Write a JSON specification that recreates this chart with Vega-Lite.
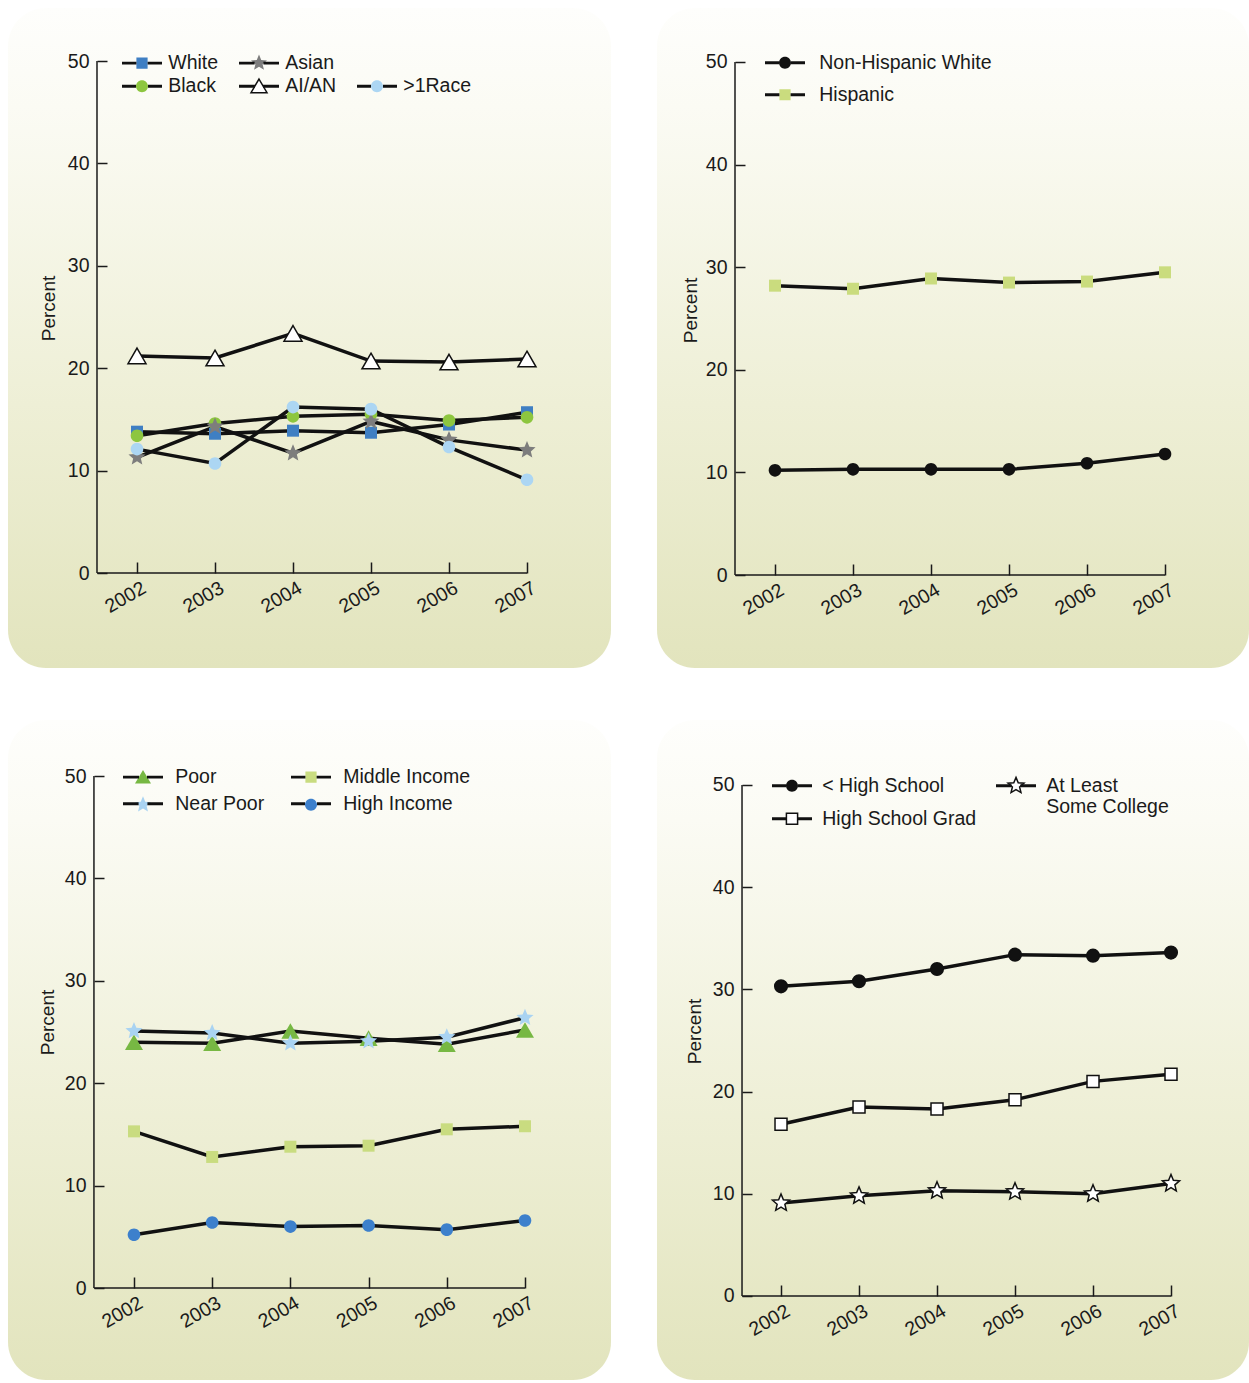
{
"$schema": "https://vega.github.io/schema/vega-lite/v6.json",
"padding": {"left": 8, "top": 8, "right": 0, "bottom": 0},
"background": "white",
"config": {"view": {"stroke": null}, "font": "Liberation Sans"},
"spacing": 52,
"vconcat": [
{"spacing": 46, "hconcat": [
{
"width": 603, "height": 660,
"view": {"cornerRadius": 38, "stroke": null, "fill": {"gradient": "linear", "x1": 0, "y1": 0, "x2": 0, "y2": 1, "stops": [{"offset": 0, "color": "#fefefc"}, {"offset": 0.15, "color": "#fbfbf4"}, {"offset": 0.6, "color": "#eeefd6"}, {"offset": 1, "color": "#e2e4bd"}]}},
"data": {"values": [
{"year": 2002, "group": "White", "value": 13.8}, {"year": 2003, "group": "White", "value": 13.6}, {"year": 2004, "group": "White", "value": 13.9}, {"year": 2005, "group": "White", "value": 13.7}, {"year": 2006, "group": "White", "value": 14.5}, {"year": 2007, "group": "White", "value": 15.7},
{"year": 2002, "group": "Black", "value": 13.4}, {"year": 2003, "group": "Black", "value": 14.6}, {"year": 2004, "group": "Black", "value": 15.3}, {"year": 2005, "group": "Black", "value": 15.5}, {"year": 2006, "group": "Black", "value": 14.9}, {"year": 2007, "group": "Black", "value": 15.2},
{"year": 2002, "group": "Asian", "value": 11.3}, {"year": 2003, "group": "Asian", "value": 14.3}, {"year": 2004, "group": "Asian", "value": 11.7}, {"year": 2005, "group": "Asian", "value": 14.8}, {"year": 2006, "group": "Asian", "value": 13.0}, {"year": 2007, "group": "Asian", "value": 12.0},
{"year": 2002, "group": "AI/AN", "value": 21.2}, {"year": 2003, "group": "AI/AN", "value": 21.0}, {"year": 2004, "group": "AI/AN", "value": 23.4}, {"year": 2005, "group": "AI/AN", "value": 20.7}, {"year": 2006, "group": "AI/AN", "value": 20.6}, {"year": 2007, "group": "AI/AN", "value": 20.9},
{"year": 2002, "group": ">1Race", "value": 12.1}, {"year": 2003, "group": ">1Race", "value": 10.7}, {"year": 2004, "group": ">1Race", "value": 16.2}, {"year": 2005, "group": ">1Race", "value": 16.0}, {"year": 2006, "group": ">1Race", "value": 12.3}, {"year": 2007, "group": ">1Race", "value": 9.1}
]},
"encoding": {
 "x": {"field": "year", "type": "quantitative", "scale": {"domain": [2000.346, 2008.077], "nice": false, "zero": false},
  "axis": {"values": [2002, 2003, 2004, 2005, 2006, 2007], "format": "d", "domain": false, "grid": false, "ticks": true, "tickSize": -11, "tickWidth": 1.5, "tickColor": "#1a1a1a", "labelAngle": -30, "labelAlign": "center", "labelBaseline": "middle", "labelPadding": 35, "labelOffset": -12, "labelFont": "Liberation Sans", "labelFontSize": 19.5, "labelColor": "#1a1a1a", "labelOverlap": false, "labelFlush": false, "offset": -95, "title": null, "zindex": 1}},
 "y": {"field": "value", "type": "quantitative", "scale": {"domain": [-9.277, 55.176], "nice": false, "zero": false},
  "axis": {"values": [0, 10, 20, 30, 40, 50], "domain": false, "grid": false, "ticks": true, "tickSize": -10, "tickWidth": 1.5, "tickColor": "#1a1a1a", "labelPadding": 18, "labelFont": "Liberation Sans", "labelFontSize": 19.5, "labelColor": "#1a1a1a", "labelOverlap": false, "labelFlush": false, "offset": -89, "title": "Percent", "titleFont": "Liberation Sans", "titleFontSize": 19, "titleFontWeight": "normal", "titleColor": "#1a1a1a", "titleX": -49, "titleY": 300, "titleBaseline": "middle", "titleAngle": 270, "zindex": 1}}
},
"layer": [
{"data": {"values": [{"x": 2001.487, "y": 0, "y2": 50}]}, "mark": {"type": "rule", "stroke": "#1a1a1a", "strokeWidth": 1.5},
 "encoding": {"x": {"field": "x", "type": "quantitative"}, "y": {"field": "y", "type": "quantitative"}, "y2": {"field": "y2"}}},
{"data": {"values": [{"x": 2001.487, "x2": 2007, "y": 0}]}, "mark": {"type": "rule", "stroke": "#1a1a1a", "strokeWidth": 1.5},
 "encoding": {"x": {"field": "x", "type": "quantitative"}, "x2": {"field": "x2"}, "y": {"field": "y", "type": "quantitative"}}},
{"mark": {"type": "line", "color": "#111111", "strokeWidth": 3.5},
 "encoding": {"detail": {"field": "group", "type": "nominal"}}},
{"mark": {"type": "point", "filled": true, "size": 144, "strokeWidth": 1.5, "opacity": 1},
 "encoding": {
  "shape": {"field": "group", "type": "nominal", "scale": {"domain": ["White", "Black", "Asian", "AI/AN", ">1Race"], "range": ["M-1,-1H1V1H-1Z", "M-1.05,0A1.05,1.05,0,1,0,1.05,0A1.05,1.05,0,1,0,-1.05,0Z", "M0,-1.5L0.397,-0.546L1.427,-0.464L0.642,0.209L0.882,1.214L0,0.675L-0.882,1.214L-0.642,0.209L-1.427,-0.464L-0.397,-0.546Z", "M0,-1.3L1.5,1.3H-1.5Z", "M-1.05,0A1.05,1.05,0,1,0,1.05,0A1.05,1.05,0,1,0,-1.05,0Z"]}, "legend": null},
  "fill": {"field": "group", "type": "nominal", "scale": {"domain": ["White", "Black", "Asian", "AI/AN", ">1Race"], "range": ["#3f7fc3", "#8dc63f", "#7d7d7d", "#ffffff", "#acd6f3"]}, "legend": null},
  "stroke": {"field": "group", "type": "nominal", "scale": {"domain": ["White", "Black", "Asian", "AI/AN", ">1Race"], "range": ["transparent", "transparent", "transparent", "#111111", "transparent"]}, "legend": null}}},
{"transform": [{"filter": "false"}], "mark": {"type": "point", "filled": true, "strokeWidth": 1.5},
 "encoding": {
  "shape": {"field": "group", "type": "nominal", "scale": {"domain": ["White", "Black", "Asian", "AI/AN", " ", ">1Race"], "range": ["M-2.857,0H-0.8M0.8,0H2.857M-0.8,-0.8H0.8V0.8H-0.8Z", "M-2.857,0H-0.857M0.857,0H2.857M-0.857,0A0.857,0.857,0,1,0,0.857,0A0.857,0.857,0,1,0,-0.857,0Z", "M-2.857,0H-0.629M0.629,0H2.857M0,-1.2L0.317,-0.437L1.143,-0.371L0.514,0.169L0.706,0.971L0,0.543L-0.706,0.971L-0.514,0.169L-1.143,-0.371L-0.317,-0.437Z", "M-2.857,0H-0.571M0.571,0H2.857M0,-1.029L1.143,0.914H-1.143Z", "M0,0", "M-2.857,0H-0.857M0.857,0H2.857M-0.857,0A0.857,0.857,0,1,0,0.857,0A0.857,0.857,0,1,0,-0.857,0Z"]},
   "legend": {"orient": "none", "legendX": 114, "legendY": 45, "columns": 3, "columnPadding": 17, "rowPadding": 2.5, "symbolSize": 196, "symbolOffset": 10.25, "symbolStrokeWidth": 1.5, "symbolOpacity": 1, "labelOffset": 16.5, "labelFont": "Liberation Sans", "labelFontSize": 19.5, "labelColor": "transparent", "labelLimit": 400, "title": null, "padding": 0, "encode": {"symbols": {"update": {"strokeWidth": {"value": 1.5}}}}}},
  "fill": {"field": "group", "type": "nominal", "scale": {"domain": ["White", "Black", "Asian", "AI/AN", " ", ">1Race"], "range": ["#3f7fc3", "#8dc63f", "#7d7d7d", "#ffffff", "transparent", "#acd6f3"]},
   "legend": {"orient": "none", "legendX": 114, "legendY": 45, "columns": 3, "columnPadding": 17, "rowPadding": 2.5, "symbolSize": 196, "symbolOffset": 10.25, "symbolStrokeWidth": 1.5, "symbolOpacity": 1, "labelOffset": 16.5, "labelFont": "Liberation Sans", "labelFontSize": 19.5, "labelColor": "transparent", "labelLimit": 400, "title": null, "padding": 0, "encode": {"symbols": {"update": {"strokeWidth": {"value": 1.5}}}}}},
  "stroke": {"field": "group", "type": "nominal", "scale": {"domain": ["White", "Black", "Asian", "AI/AN", " ", ">1Race"], "range": ["transparent", "transparent", "transparent", "#111111", "transparent", "transparent"]},
   "legend": {"orient": "none", "legendX": 114, "legendY": 45, "columns": 3, "columnPadding": 17, "rowPadding": 2.5, "symbolSize": 196, "symbolOffset": 10.25, "symbolStrokeWidth": 1.5, "symbolOpacity": 1, "labelOffset": 16.5, "labelFont": "Liberation Sans", "labelFontSize": 19.5, "labelColor": "transparent", "labelLimit": 400, "title": null, "padding": 0, "encode": {"symbols": {"update": {"strokeWidth": {"value": 1.5}}}}}}}},
{"transform": [{"filter": "false"}], "mark": {"type": "point", "filled": false, "stroke": "#111111", "strokeWidth": 1.5},
 "encoding": {
  "shape": {"field": "group", "type": "nominal", "scale": {"domain": ["White", "Black", "Asian", "AI/AN", " ", ">1Race"], "range": ["M-2.857,-0.107H-0.8M0.8,-0.107H2.857M-2.857,0.107H-0.8M0.8,0.107H2.857", "M-2.857,-0.107H-0.857M0.857,-0.107H2.857M-2.857,0.107H-0.857M0.857,0.107H2.857", "M-2.857,-0.107H-0.629M0.629,-0.107H2.857M-2.857,0.107H-0.629M0.629,0.107H2.857", "M-2.857,-0.107H-0.571M0.571,-0.107H2.857M-2.857,0.107H-0.571M0.571,0.107H2.857", "M0,0", "M-2.857,-0.107H-0.857M0.857,-0.107H2.857M-2.857,0.107H-0.857M0.857,0.107H2.857"]},
   "legend": {"orient": "none", "legendX": 114, "legendY": 45, "columns": 3, "columnPadding": 17, "rowPadding": 2.5, "symbolSize": 196, "symbolOffset": 10.25, "symbolStrokeWidth": 1.5, "symbolOpacity": 1, "labelOffset": 16.5, "labelFont": "Liberation Sans", "labelFontSize": 19.5, "labelColor": "#1a1a1a", "labelLimit": 400, "title": null, "padding": 0, "encode": {"symbols": {"update": {"stroke": {"value": "#111111"}, "strokeWidth": {"value": 1.5}, "fill": {"value": "transparent"}}}}}}}}
],
"resolve": {"scale": {"shape": "independent", "fill": "independent", "stroke": "independent"}, "legend": {"shape": "independent", "fill": "independent", "stroke": "independent"}}
},
{
"width": 592, "height": 660,
"view": {"cornerRadius": 38, "stroke": null, "fill": {"gradient": "linear", "x1": 0, "y1": 0, "x2": 0, "y2": 1, "stops": [{"offset": 0, "color": "#fefefc"}, {"offset": 0.15, "color": "#fbfbf4"}, {"offset": 0.6, "color": "#eeefd6"}, {"offset": 1, "color": "#e2e4bd"}]}},
"data": {"values": [
{"year": 2002, "group": "Non-Hispanic White", "value": 10.2}, {"year": 2003, "group": "Non-Hispanic White", "value": 10.3}, {"year": 2004, "group": "Non-Hispanic White", "value": 10.3}, {"year": 2005, "group": "Non-Hispanic White", "value": 10.3}, {"year": 2006, "group": "Non-Hispanic White", "value": 10.9}, {"year": 2007, "group": "Non-Hispanic White", "value": 11.8},
{"year": 2002, "group": "Hispanic", "value": 28.2}, {"year": 2003, "group": "Hispanic", "value": 27.9}, {"year": 2004, "group": "Hispanic", "value": 28.9}, {"year": 2005, "group": "Hispanic", "value": 28.5}, {"year": 2006, "group": "Hispanic", "value": 28.6}, {"year": 2007, "group": "Hispanic", "value": 29.5}
]},
"encoding": {
 "x": {"field": "year", "type": "quantitative", "scale": {"domain": [2000.487, 2008.077], "nice": false, "zero": false},
  "axis": {"values": [2002, 2003, 2004, 2005, 2006, 2007], "format": "d", "domain": false, "grid": false, "ticks": true, "tickSize": -11, "tickWidth": 1.5, "tickColor": "#1a1a1a", "labelAngle": -30, "labelAlign": "center", "labelBaseline": "middle", "labelPadding": 35, "labelOffset": -12, "labelFont": "Liberation Sans", "labelFontSize": 19.5, "labelColor": "#1a1a1a", "labelOverlap": false, "labelFlush": false, "offset": -93, "title": null, "zindex": 1}},
 "y": {"field": "value", "type": "quantitative", "scale": {"domain": [-9.06, 55.26], "nice": false, "zero": false},
  "axis": {"values": [0, 10, 20, 30, 40, 50], "domain": false, "grid": false, "ticks": true, "tickSize": -10, "tickWidth": 1.5, "tickColor": "#1a1a1a", "labelPadding": 18, "labelFont": "Liberation Sans", "labelFontSize": 19.5, "labelColor": "#1a1a1a", "labelOverlap": false, "labelFlush": false, "offset": -78, "title": "Percent", "titleFont": "Liberation Sans", "titleFontSize": 19, "titleFontWeight": "normal", "titleColor": "#1a1a1a", "titleX": -45, "titleY": 302, "titleBaseline": "middle", "titleAngle": 270, "zindex": 1}}
},
"layer": [
{"data": {"values": [{"x": 2001.487, "y": 0, "y2": 50}]}, "mark": {"type": "rule", "stroke": "#1a1a1a", "strokeWidth": 1.5},
 "encoding": {"x": {"field": "x", "type": "quantitative"}, "y": {"field": "y", "type": "quantitative"}, "y2": {"field": "y2"}}},
{"data": {"values": [{"x": 2001.487, "x2": 2007, "y": 0}]}, "mark": {"type": "rule", "stroke": "#1a1a1a", "strokeWidth": 1.5},
 "encoding": {"x": {"field": "x", "type": "quantitative"}, "x2": {"field": "x2"}, "y": {"field": "y", "type": "quantitative"}}},
{"mark": {"type": "line", "color": "#111111", "strokeWidth": 3.5},
 "encoding": {"detail": {"field": "group", "type": "nominal"}}},
{"mark": {"type": "point", "filled": true, "size": 144, "strokeWidth": 1.5, "opacity": 1},
 "encoding": {
  "shape": {"field": "group", "type": "nominal", "scale": {"domain": ["Non-Hispanic White", "Hispanic"], "range": ["M-1.05,0A1.05,1.05,0,1,0,1.05,0A1.05,1.05,0,1,0,-1.05,0Z", "M-1,-1H1V1H-1Z"]}, "legend": null},
  "fill": {"field": "group", "type": "nominal", "scale": {"domain": ["Non-Hispanic White", "Hispanic"], "range": ["#111111", "#cadc7e"]}, "legend": null}}},
{"transform": [{"filter": "false"}], "mark": {"type": "point", "filled": true, "strokeWidth": 1.5},
 "encoding": {
  "shape": {"field": "group", "type": "nominal", "scale": {"domain": ["Non-Hispanic White", "Hispanic"], "range": ["M-2.857,0H-0.857M0.857,0H2.857M-0.857,0A0.857,0.857,0,1,0,0.857,0A0.857,0.857,0,1,0,-0.857,0Z", "M-2.857,0H-0.8M0.8,0H2.857M-0.8,-0.8H0.8V0.8H-0.8Z"]},
   "legend": {"orient": "none", "legendX": 108, "legendY": 45, "columns": 1, "rowPadding": 11, "symbolSize": 196, "symbolOffset": 10.25, "symbolStrokeWidth": 1.5, "symbolOpacity": 1, "labelOffset": 24.5, "labelFont": "Liberation Sans", "labelFontSize": 19.5, "labelColor": "transparent", "labelLimit": 400, "title": null, "padding": 0, "encode": {"symbols": {"update": {"strokeWidth": {"value": 1.5}}}}}},
  "fill": {"field": "group", "type": "nominal", "scale": {"domain": ["Non-Hispanic White", "Hispanic"], "range": ["#111111", "#cadc7e"]},
   "legend": {"orient": "none", "legendX": 108, "legendY": 45, "columns": 1, "rowPadding": 11, "symbolSize": 196, "symbolOffset": 10.25, "symbolStrokeWidth": 1.5, "symbolOpacity": 1, "labelOffset": 24.5, "labelFont": "Liberation Sans", "labelFontSize": 19.5, "labelColor": "transparent", "labelLimit": 400, "title": null, "padding": 0, "encode": {"symbols": {"update": {"strokeWidth": {"value": 1.5}}}}}},
  "stroke": {"field": "group", "type": "nominal", "scale": {"domain": ["Non-Hispanic White", "Hispanic"], "range": ["transparent", "transparent"]},
   "legend": {"orient": "none", "legendX": 108, "legendY": 45, "columns": 1, "rowPadding": 11, "symbolSize": 196, "symbolOffset": 10.25, "symbolStrokeWidth": 1.5, "symbolOpacity": 1, "labelOffset": 24.5, "labelFont": "Liberation Sans", "labelFontSize": 19.5, "labelColor": "transparent", "labelLimit": 400, "title": null, "padding": 0, "encode": {"symbols": {"update": {"strokeWidth": {"value": 1.5}}}}}}}},
{"transform": [{"filter": "false"}], "mark": {"type": "point", "filled": false, "stroke": "#111111", "strokeWidth": 1.5},
 "encoding": {
  "shape": {"field": "group", "type": "nominal", "scale": {"domain": ["Non-Hispanic White", "Hispanic"], "range": ["M-2.857,-0.107H-0.857M0.857,-0.107H2.857M-2.857,0.107H-0.857M0.857,0.107H2.857", "M-2.857,-0.107H-0.8M0.8,-0.107H2.857M-2.857,0.107H-0.8M0.8,0.107H2.857"]},
   "legend": {"orient": "none", "legendX": 108, "legendY": 45, "columns": 1, "rowPadding": 11, "symbolSize": 196, "symbolOffset": 10.25, "symbolStrokeWidth": 1.5, "symbolOpacity": 1, "labelOffset": 24.5, "labelFont": "Liberation Sans", "labelFontSize": 19.5, "labelColor": "#1a1a1a", "labelLimit": 400, "title": null, "padding": 0, "encode": {"symbols": {"update": {"stroke": {"value": "#111111"}, "strokeWidth": {"value": 1.5}, "fill": {"value": "transparent"}}}}}}}}
],
"resolve": {"scale": {"shape": "independent", "fill": "independent", "stroke": "independent"}, "legend": {"shape": "independent", "fill": "independent", "stroke": "independent"}}
}
]},
{"spacing": 46, "hconcat": [
{
"width": 603, "height": 660,
"view": {"cornerRadius": 38, "stroke": null, "fill": {"gradient": "linear", "x1": 0, "y1": 0, "x2": 0, "y2": 1, "stops": [{"offset": 0, "color": "#fefefc"}, {"offset": 0.15, "color": "#fbfbf4"}, {"offset": 0.6, "color": "#eeefd6"}, {"offset": 1, "color": "#e2e4bd"}]}},
"data": {"values": [
{"year": 2002, "group": "Poor", "value": 24.0}, {"year": 2003, "group": "Poor", "value": 23.9}, {"year": 2004, "group": "Poor", "value": 25.1}, {"year": 2005, "group": "Poor", "value": 24.4}, {"year": 2006, "group": "Poor", "value": 23.8}, {"year": 2007, "group": "Poor", "value": 25.2},
{"year": 2002, "group": "Near Poor", "value": 25.1}, {"year": 2003, "group": "Near Poor", "value": 24.9}, {"year": 2004, "group": "Near Poor", "value": 23.9}, {"year": 2005, "group": "Near Poor", "value": 24.1}, {"year": 2006, "group": "Near Poor", "value": 24.5}, {"year": 2007, "group": "Near Poor", "value": 26.4},
{"year": 2002, "group": "Middle Income", "value": 15.3}, {"year": 2003, "group": "Middle Income", "value": 12.8}, {"year": 2004, "group": "Middle Income", "value": 13.8}, {"year": 2005, "group": "Middle Income", "value": 13.9}, {"year": 2006, "group": "Middle Income", "value": 15.5}, {"year": 2007, "group": "Middle Income", "value": 15.8},
{"year": 2002, "group": "High Income", "value": 5.2}, {"year": 2003, "group": "High Income", "value": 6.4}, {"year": 2004, "group": "High Income", "value": 6.0}, {"year": 2005, "group": "High Income", "value": 6.1}, {"year": 2006, "group": "High Income", "value": 5.7}, {"year": 2007, "group": "High Income", "value": 6.6}
]},
"encoding": {
 "x": {"field": "year", "type": "quantitative", "scale": {"domain": [2000.389, 2008.1], "nice": false, "zero": false},
  "axis": {"values": [2002, 2003, 2004, 2005, 2006, 2007], "format": "d", "domain": false, "grid": false, "ticks": true, "tickSize": -11, "tickWidth": 1.5, "tickColor": "#1a1a1a", "labelAngle": -30, "labelAlign": "center", "labelBaseline": "middle", "labelPadding": 35, "labelOffset": -12, "labelFont": "Liberation Sans", "labelFontSize": 19.5, "labelColor": "#1a1a1a", "labelOverlap": false, "labelFlush": false, "offset": -92, "title": null, "zindex": 1}},
 "y": {"field": "value", "type": "quantitative", "scale": {"domain": [-8.98, 55.47], "nice": false, "zero": false},
  "axis": {"values": [0, 10, 20, 30, 40, 50], "domain": false, "grid": false, "ticks": true, "tickSize": -10, "tickWidth": 1.5, "tickColor": "#1a1a1a", "labelPadding": 18, "labelFont": "Liberation Sans", "labelFontSize": 19.5, "labelColor": "#1a1a1a", "labelOverlap": false, "labelFlush": false, "offset": -86, "title": "Percent", "titleFont": "Liberation Sans", "titleFontSize": 19, "titleFontWeight": "normal", "titleColor": "#1a1a1a", "titleX": -47, "titleY": 302, "titleBaseline": "middle", "titleAngle": 270, "zindex": 1}}
},
"layer": [
{"data": {"values": [{"x": 2001.488, "y": 0, "y2": 50}]}, "mark": {"type": "rule", "stroke": "#1a1a1a", "strokeWidth": 1.5},
 "encoding": {"x": {"field": "x", "type": "quantitative"}, "y": {"field": "y", "type": "quantitative"}, "y2": {"field": "y2"}}},
{"data": {"values": [{"x": 2001.488, "x2": 2007, "y": 0}]}, "mark": {"type": "rule", "stroke": "#1a1a1a", "strokeWidth": 1.5},
 "encoding": {"x": {"field": "x", "type": "quantitative"}, "x2": {"field": "x2"}, "y": {"field": "y", "type": "quantitative"}}},
{"mark": {"type": "line", "color": "#111111", "strokeWidth": 3.5},
 "encoding": {"detail": {"field": "group", "type": "nominal"}}},
{"mark": {"type": "point", "filled": true, "size": 144, "strokeWidth": 1.5, "opacity": 1},
 "encoding": {
  "shape": {"field": "group", "type": "nominal", "scale": {"domain": ["Poor", "Near Poor", "Middle Income", "High Income"], "range": ["M0,-1.3L1.5,1.3H-1.5Z", "M0,-1.5L0.397,-0.546L1.427,-0.464L0.642,0.209L0.882,1.214L0,0.675L-0.882,1.214L-0.642,0.209L-1.427,-0.464L-0.397,-0.546Z", "M-1,-1H1V1H-1Z", "M-1.05,0A1.05,1.05,0,1,0,1.05,0A1.05,1.05,0,1,0,-1.05,0Z"]}, "legend": null},
  "fill": {"field": "group", "type": "nominal", "scale": {"domain": ["Poor", "Near Poor", "Middle Income", "High Income"], "range": ["#77b843", "#a9d3f2", "#c9dc80", "#3d80cc"]}, "legend": null}}},
{"transform": [{"filter": "false"}], "mark": {"type": "point", "filled": true, "strokeWidth": 1.5},
 "encoding": {
  "shape": {"field": "group", "type": "nominal", "scale": {"domain": ["Poor", "Near Poor", "Middle Income", "High Income"], "range": ["M-2.857,0H-0.571M0.571,0H2.857M0,-1.029L1.143,0.914H-1.143Z", "M-2.857,0H-0.629M0.629,0H2.857M0,-1.2L0.317,-0.437L1.143,-0.371L0.514,0.169L0.706,0.971L0,0.543L-0.706,0.971L-0.514,0.169L-1.143,-0.371L-0.317,-0.437Z", "M-2.857,0H-0.8M0.8,0H2.857M-0.8,-0.8H0.8V0.8H-0.8Z", "M-2.857,0H-0.857M0.857,0H2.857M-0.857,0A0.857,0.857,0,1,0,0.857,0A0.857,0.857,0,1,0,-0.857,0Z"]},
   "legend": {"orient": "none", "legendX": 115, "legendY": 47, "columns": 2, "columnPadding": 23, "rowPadding": 6, "symbolSize": 196, "symbolOffset": 10.25, "symbolStrokeWidth": 1.5, "symbolOpacity": 1, "labelOffset": 22.5, "labelFont": "Liberation Sans", "labelFontSize": 19.5, "labelColor": "transparent", "labelLimit": 400, "title": null, "padding": 0, "encode": {"symbols": {"update": {"strokeWidth": {"value": 1.5}}}}}},
  "fill": {"field": "group", "type": "nominal", "scale": {"domain": ["Poor", "Near Poor", "Middle Income", "High Income"], "range": ["#77b843", "#a9d3f2", "#c9dc80", "#3d80cc"]},
   "legend": {"orient": "none", "legendX": 115, "legendY": 47, "columns": 2, "columnPadding": 23, "rowPadding": 6, "symbolSize": 196, "symbolOffset": 10.25, "symbolStrokeWidth": 1.5, "symbolOpacity": 1, "labelOffset": 22.5, "labelFont": "Liberation Sans", "labelFontSize": 19.5, "labelColor": "transparent", "labelLimit": 400, "title": null, "padding": 0, "encode": {"symbols": {"update": {"strokeWidth": {"value": 1.5}}}}}},
  "stroke": {"field": "group", "type": "nominal", "scale": {"domain": ["Poor", "Near Poor", "Middle Income", "High Income"], "range": ["transparent", "transparent", "transparent", "transparent"]},
   "legend": {"orient": "none", "legendX": 115, "legendY": 47, "columns": 2, "columnPadding": 23, "rowPadding": 6, "symbolSize": 196, "symbolOffset": 10.25, "symbolStrokeWidth": 1.5, "symbolOpacity": 1, "labelOffset": 22.5, "labelFont": "Liberation Sans", "labelFontSize": 19.5, "labelColor": "transparent", "labelLimit": 400, "title": null, "padding": 0, "encode": {"symbols": {"update": {"strokeWidth": {"value": 1.5}}}}}}}},
{"transform": [{"filter": "false"}], "mark": {"type": "point", "filled": false, "stroke": "#111111", "strokeWidth": 1.5},
 "encoding": {
  "shape": {"field": "group", "type": "nominal", "scale": {"domain": ["Poor", "Near Poor", "Middle Income", "High Income"], "range": ["M-2.857,-0.107H-0.571M0.571,-0.107H2.857M-2.857,0.107H-0.571M0.571,0.107H2.857", "M-2.857,-0.107H-0.629M0.629,-0.107H2.857M-2.857,0.107H-0.629M0.629,0.107H2.857", "M-2.857,-0.107H-0.8M0.8,-0.107H2.857M-2.857,0.107H-0.8M0.8,0.107H2.857", "M-2.857,-0.107H-0.857M0.857,-0.107H2.857M-2.857,0.107H-0.857M0.857,0.107H2.857"]},
   "legend": {"orient": "none", "legendX": 115, "legendY": 47, "columns": 2, "columnPadding": 23, "rowPadding": 6, "symbolSize": 196, "symbolOffset": 10.25, "symbolStrokeWidth": 1.5, "symbolOpacity": 1, "labelOffset": 22.5, "labelFont": "Liberation Sans", "labelFontSize": 19.5, "labelColor": "#1a1a1a", "labelLimit": 400, "title": null, "padding": 0, "encode": {"symbols": {"update": {"stroke": {"value": "#111111"}, "strokeWidth": {"value": 1.5}, "fill": {"value": "transparent"}}}}}}}}
],
"resolve": {"scale": {"shape": "independent", "fill": "independent", "stroke": "independent"}, "legend": {"shape": "independent", "fill": "independent", "stroke": "independent"}}
},
{
"width": 592, "height": 660,
"view": {"cornerRadius": 38, "stroke": null, "fill": {"gradient": "linear", "x1": 0, "y1": 0, "x2": 0, "y2": 1, "stops": [{"offset": 0, "color": "#fefefc"}, {"offset": 0.15, "color": "#fbfbf4"}, {"offset": 0.6, "color": "#eeefd6"}, {"offset": 1, "color": "#e2e4bd"}]}},
"data": {"values": [
{"year": 2002, "group": "< High School", "value": 30.3}, {"year": 2003, "group": "< High School", "value": 30.8}, {"year": 2004, "group": "< High School", "value": 32.0}, {"year": 2005, "group": "< High School", "value": 33.4}, {"year": 2006, "group": "< High School", "value": 33.3}, {"year": 2007, "group": "< High School", "value": 33.6},
{"year": 2002, "group": "High School Grad", "value": 16.8}, {"year": 2003, "group": "High School Grad", "value": 18.5}, {"year": 2004, "group": "High School Grad", "value": 18.3}, {"year": 2005, "group": "High School Grad", "value": 19.2}, {"year": 2006, "group": "High School Grad", "value": 21.0}, {"year": 2007, "group": "High School Grad", "value": 21.7},
{"year": 2002, "group": "At Least Some College", "value": 9.1}, {"year": 2003, "group": "At Least Some College", "value": 9.8}, {"year": 2004, "group": "At Least Some College", "value": 10.3}, {"year": 2005, "group": "At Least Some College", "value": 10.2}, {"year": 2006, "group": "At Least Some College", "value": 10.0}, {"year": 2007, "group": "At Least Some College", "value": 11.0}
]},
"encoding": {
 "x": {"field": "year", "type": "quantitative", "scale": {"domain": [2000.41, 2008.0], "nice": false, "zero": false},
  "axis": {"values": [2002, 2003, 2004, 2005, 2006, 2007], "format": "d", "domain": false, "grid": false, "ticks": true, "tickSize": -11, "tickWidth": 1.5, "tickColor": "#1a1a1a", "labelAngle": -30, "labelAlign": "center", "labelBaseline": "middle", "labelPadding": 35, "labelOffset": -12, "labelFont": "Liberation Sans", "labelFontSize": 19.5, "labelColor": "#1a1a1a", "labelOverlap": false, "labelFlush": false, "offset": -84, "title": null, "zindex": 1}},
 "y": {"field": "value", "type": "quantitative", "scale": {"domain": [-8.22, 56.36], "nice": false, "zero": false},
  "axis": {"values": [0, 10, 20, 30, 40, 50], "domain": false, "grid": false, "ticks": true, "tickSize": -10, "tickWidth": 1.5, "tickColor": "#1a1a1a", "labelPadding": 18, "labelFont": "Liberation Sans", "labelFontSize": 19.5, "labelColor": "#1a1a1a", "labelOverlap": false, "labelFlush": false, "offset": -85, "title": "Percent", "titleFont": "Liberation Sans", "titleFontSize": 19, "titleFontWeight": "normal", "titleColor": "#1a1a1a", "titleX": -48, "titleY": 311, "titleBaseline": "middle", "titleAngle": 270, "zindex": 1}}
},
"layer": [
{"data": {"values": [{"x": 2001.5, "y": 0, "y2": 50}]}, "mark": {"type": "rule", "stroke": "#1a1a1a", "strokeWidth": 1.5},
 "encoding": {"x": {"field": "x", "type": "quantitative"}, "y": {"field": "y", "type": "quantitative"}, "y2": {"field": "y2"}}},
{"data": {"values": [{"x": 2001.5, "x2": 2007, "y": 0}]}, "mark": {"type": "rule", "stroke": "#1a1a1a", "strokeWidth": 1.5},
 "encoding": {"x": {"field": "x", "type": "quantitative"}, "x2": {"field": "x2"}, "y": {"field": "y", "type": "quantitative"}}},
{"mark": {"type": "line", "color": "#111111", "strokeWidth": 3.5},
 "encoding": {"detail": {"field": "group", "type": "nominal"}}},
{"mark": {"type": "point", "filled": true, "size": 144, "strokeWidth": 1.5, "opacity": 1},
 "encoding": {
  "shape": {"field": "group", "type": "nominal", "scale": {"domain": ["< High School", "High School Grad", "At Least Some College"], "range": ["M-1.05,0A1.05,1.05,0,1,0,1.05,0A1.05,1.05,0,1,0,-1.05,0Z", "M-1,-1H1V1H-1Z", "M0,-1.5L0.397,-0.546L1.427,-0.464L0.642,0.209L0.882,1.214L0,0.675L-0.882,1.214L-0.642,0.209L-1.427,-0.464L-0.397,-0.546Z"]}, "legend": null},
  "fill": {"field": "group", "type": "nominal", "scale": {"domain": ["< High School", "High School Grad", "At Least Some College"], "range": ["#111111", "#ffffff", "#ffffff"]}, "legend": null},
  "stroke": {"field": "group", "type": "nominal", "scale": {"domain": ["< High School", "High School Grad", "At Least Some College"], "range": ["#111111", "#111111", "#111111"]}, "legend": null}}},
{"transform": [{"filter": "false"}], "mark": {"type": "point", "filled": true, "strokeWidth": 1.5},
 "encoding": {
  "shape": {"field": "group", "type": "nominal", "scale": {"domain": ["< High School", "High School Grad"], "range": ["M-2.857,0H-0.857M0.857,0H2.857M-0.857,0A0.857,0.857,0,1,0,0.857,0A0.857,0.857,0,1,0,-0.857,0Z", "M-2.857,0H-0.8M0.8,0H2.857M-0.8,-0.8H0.8V0.8H-0.8Z"]},
   "legend": {"orient": "none", "legendX": 115, "legendY": 56, "columns": 1, "rowPadding": 12, "symbolSize": 196, "symbolOffset": 10.25, "symbolStrokeWidth": 1.5, "symbolOpacity": 1, "labelOffset": 20.5, "labelFont": "Liberation Sans", "labelFontSize": 19.5, "labelColor": "transparent", "labelLimit": 400, "title": null, "padding": 0, "encode": {"symbols": {"update": {"strokeWidth": {"value": 1.5}}}}}},
  "fill": {"field": "group", "type": "nominal", "scale": {"domain": ["< High School", "High School Grad"], "range": ["#111111", "#ffffff"]},
   "legend": {"orient": "none", "legendX": 115, "legendY": 56, "columns": 1, "rowPadding": 12, "symbolSize": 196, "symbolOffset": 10.25, "symbolStrokeWidth": 1.5, "symbolOpacity": 1, "labelOffset": 20.5, "labelFont": "Liberation Sans", "labelFontSize": 19.5, "labelColor": "transparent", "labelLimit": 400, "title": null, "padding": 0, "encode": {"symbols": {"update": {"strokeWidth": {"value": 1.5}}}}}},
  "stroke": {"field": "group", "type": "nominal", "scale": {"domain": ["< High School", "High School Grad"], "range": ["transparent", "#111111"]},
   "legend": {"orient": "none", "legendX": 115, "legendY": 56, "columns": 1, "rowPadding": 12, "symbolSize": 196, "symbolOffset": 10.25, "symbolStrokeWidth": 1.5, "symbolOpacity": 1, "labelOffset": 20.5, "labelFont": "Liberation Sans", "labelFontSize": 19.5, "labelColor": "transparent", "labelLimit": 400, "title": null, "padding": 0, "encode": {"symbols": {"update": {"strokeWidth": {"value": 1.5}}}}}}}},
{"transform": [{"filter": "false"}], "mark": {"type": "point", "filled": false, "stroke": "#111111", "strokeWidth": 1.5},
 "encoding": {
  "shape": {"field": "group", "type": "nominal", "scale": {"domain": ["< High School", "High School Grad"], "range": ["M-2.857,-0.107H-0.857M0.857,-0.107H2.857M-2.857,0.107H-0.857M0.857,0.107H2.857", "M-2.857,-0.107H-0.8M0.8,-0.107H2.857M-2.857,0.107H-0.8M0.8,0.107H2.857"]},
   "legend": {"orient": "none", "legendX": 115, "legendY": 56, "columns": 1, "rowPadding": 12, "symbolSize": 196, "symbolOffset": 10.25, "symbolStrokeWidth": 1.5, "symbolOpacity": 1, "labelOffset": 20.5, "labelFont": "Liberation Sans", "labelFontSize": 19.5, "labelColor": "#1a1a1a", "labelLimit": 400, "title": null, "padding": 0, "encode": {"symbols": {"update": {"stroke": {"value": "#111111"}, "strokeWidth": {"value": 1.5}, "fill": {"value": "transparent"}}}}}}}},
{"transform": [{"filter": "false"}], "mark": {"type": "point", "filled": true, "strokeWidth": 1.5},
 "encoding": {
  "shape": {"field": "group", "type": "nominal", "scale": {"domain": ["At Least Some College"], "range": ["M-2.857,0H-0.629M0.629,0H2.857M0,-1.2L0.317,-0.437L1.143,-0.371L0.514,0.169L0.706,0.971L0,0.543L-0.706,0.971L-0.514,0.169L-1.143,-0.371L-0.317,-0.437Z"]},
   "legend": {"orient": "none", "legendX": 339, "legendY": 56, "columns": 1, "symbolSize": 196, "symbolOffset": 10.25, "symbolStrokeWidth": 1.5, "symbolOpacity": 1, "labelOffset": 20.5, "labelFont": "Liberation Sans", "labelFontSize": 19.5, "labelColor": "transparent", "labelLimit": 400, "title": null, "padding": 0, "labelExpr": "['At Least', 'Some College']", "encode": {"symbols": {"update": {"strokeWidth": {"value": 1.5}}}, "labels": {"update": {"lineHeight": {"value": 23}}}}}},
  "fill": {"field": "group", "type": "nominal", "scale": {"domain": ["At Least Some College"], "range": ["#ffffff"]},
   "legend": {"orient": "none", "legendX": 339, "legendY": 56, "columns": 1, "symbolSize": 196, "symbolOffset": 10.25, "symbolStrokeWidth": 1.5, "symbolOpacity": 1, "labelOffset": 20.5, "labelFont": "Liberation Sans", "labelFontSize": 19.5, "labelColor": "transparent", "labelLimit": 400, "title": null, "padding": 0, "labelExpr": "['At Least', 'Some College']", "encode": {"symbols": {"update": {"strokeWidth": {"value": 1.5}}}, "labels": {"update": {"lineHeight": {"value": 23}}}}}},
  "stroke": {"field": "group", "type": "nominal", "scale": {"domain": ["At Least Some College"], "range": ["#111111"]},
   "legend": {"orient": "none", "legendX": 339, "legendY": 56, "columns": 1, "symbolSize": 196, "symbolOffset": 10.25, "symbolStrokeWidth": 1.5, "symbolOpacity": 1, "labelOffset": 20.5, "labelFont": "Liberation Sans", "labelFontSize": 19.5, "labelColor": "transparent", "labelLimit": 400, "title": null, "padding": 0, "labelExpr": "['At Least', 'Some College']", "encode": {"symbols": {"update": {"strokeWidth": {"value": 1.5}}}, "labels": {"update": {"lineHeight": {"value": 23}}}}}}}},
{"transform": [{"filter": "false"}], "mark": {"type": "point", "filled": false, "stroke": "#111111", "strokeWidth": 1.5},
 "encoding": {
  "shape": {"field": "group", "type": "nominal", "scale": {"domain": ["At Least Some College"], "range": ["M-2.857,-0.107H-0.629M0.629,-0.107H2.857M-2.857,0.107H-0.629M0.629,0.107H2.857"]},
   "legend": {"orient": "none", "legendX": 339, "legendY": 56, "columns": 1, "symbolSize": 196, "symbolOffset": 10.25, "symbolStrokeWidth": 1.5, "symbolOpacity": 1, "labelOffset": 20.5, "labelFont": "Liberation Sans", "labelFontSize": 19.5, "labelColor": "#1a1a1a", "labelLimit": 400, "title": null, "padding": 0, "labelExpr": "['At Least', 'Some College']", "encode": {"symbols": {"update": {"stroke": {"value": "#111111"}, "strokeWidth": {"value": 1.5}, "fill": {"value": "transparent"}}}, "labels": {"update": {"lineHeight": {"value": 23}}}}}}}}
],
"resolve": {"scale": {"shape": "independent", "fill": "independent", "stroke": "independent"}, "legend": {"shape": "independent", "fill": "independent", "stroke": "independent"}}
}
]}
]
}
